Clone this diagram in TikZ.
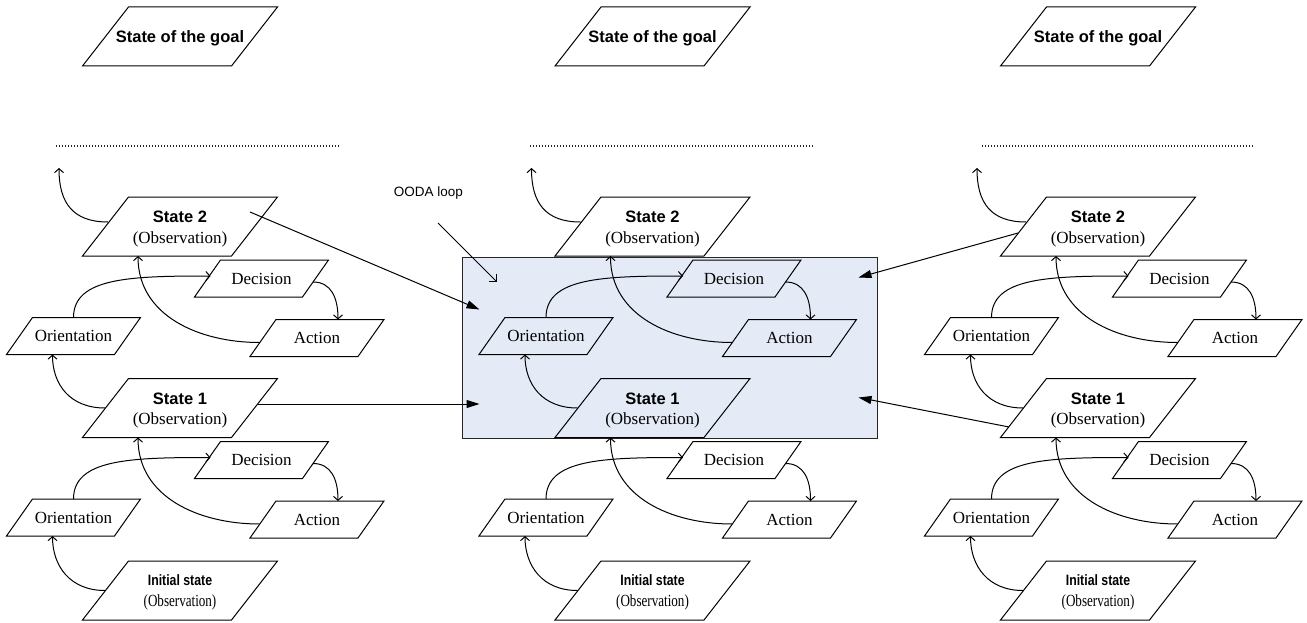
\documentclass[tikz,border=0pt]{standalone}
\usepackage{fontspec}
\usepackage{graphicx}
\setmainfont{Liberation Serif}
\setsansfont{Liberation Sans}
\usetikzlibrary{arrows.meta,calc}

\definecolor{loopfill}{RGB}{229,235,246}

\newcommand\statefont{\sffamily\bfseries\fontsize{16.5}{20.6}\selectfont}
\newcommand\obsfont{\rmfamily\fontsize{17}{20.6}\selectfont}

% large parallelogram (state boxes): edge 149, slant 46, height 59
\newcommand\bigpg[4]{%
  \node[#1] (#2) at (#3) {#4};
  \draw[edge] ([shift={(-97.5,29.5)}]#2.center) -- ++(149,0) -- ++(46,-59) -- ++(-149,0) -- cycle;
}
% small parallelogram (OODA steps): edge 108, slant 26, height 37
\newcommand\smallpg[3]{%
  \node[steptxt] (#1) at (#2) {#3};
  \draw[edge] ([shift={(-67,18.5)}]#1.center) -- ++(108,0) -- ++(26,-37) -- ++(-108,0) -- cycle;
}
% one loop: observation -> orientation -> decision -> action -> next state
\newcommand\looparrows[5]{%
  \draw[conn] ([shift={(-75,0)}]#1.center) .. controls ([shift={(-110,0)}]#1.center) and ([shift={(-21,48.5)}]#2.center) .. ([shift={(-21,18.5)}]#2.center);
  \draw[conn] ([shift={(0,-18.5)}]#2.center) .. controls ([shift={(0,-58.5)}]#2.center) and ([shift={(-131,-2.5)}]#3.center) .. ([shift={(-51,-2.5)}]#3.center);
  \draw[conn] ([shift={(51.5,3.5)}]#3.center) .. controls ([shift={(69.5,3.5)}]#3.center) and ([shift={(21,-40.5)}]#4.center) .. ([shift={(21,-18.5)}]#4.center);
  \draw[conn] ([shift={(-57.5,4.5)}]#4.center) .. controls ([shift={(-117.5,4.5)}]#4.center) and ([shift={(-42,89.5)}]#5.center) .. ([shift={(-42,29.5)}]#5.center);
}
% a full column of states and loops
\newcommand\oodacol[2]{%
  \begin{scope}[shift={(#2,0)}]
    \bigpg{goaltxt}{#1goal}{0,36.5}{\rule{0pt}{16pt}State of the goal}
    \bigpg{statetxt}{#1s2}{0,226.5}{{\statefont\rule{0pt}{16.7pt}State 2}\\(Observation)}
    \bigpg{statetxt}{#1s1}{0,408}{{\statefont\rule{0pt}{16.7pt}State 1}\\(Observation)}
    \bigpg{inittxt}{#1in}{0,590.5}{{\sffamily\bfseries\fontsize{15}{21.5}\selectfont\rule{0pt}{14.2pt}\scalebox{0.82}[1]{Initial state}}\\\scalebox{0.77}[1]{(Observation)}}
    \smallpg{#1oa}{-106.5,336}{Orientation}
    \smallpg{#1da}{81.5,278.5}{Decision}
    \smallpg{#1aa}{137,338}{Action}
    \smallpg{#1ob}{-106.5,517.5}{Orientation}
    \smallpg{#1db}{81.5,460}{Decision}
    \smallpg{#1ab}{137,519.5}{Action}
    \looparrows{#1s1}{#1oa}{#1da}{#1aa}{#1s2}
    \looparrows{#1in}{#1ob}{#1db}{#1ab}{#1s1}
    \coordinate (#1up) at (-121,168);
    \draw[conn] ([shift={(-72,-4.5)}]#1s2.center) .. controls ([shift={(-107,-4.5)}]#1s2.center) and ([shift={(0,35)}]#1up) .. (#1up);
  \end{scope}
}

\begin{document}
\begin{tikzpicture}[x=1pt,y=-1pt,
  edge/.style={draw=black, line width=1pt, line join=miter},
  conn/.style={line width=1pt, -{Straight Barb[length=4pt,width=9pt]}},
  feed/.style={line width=1pt, -{Triangle[length=13pt,width=8pt]}},
  statetxt/.style={inner sep=0pt, align=center, font=\obsfont},
  inittxt/.style={inner sep=0pt, align=center, font=\rmfamily\fontsize{17}{21.5}\selectfont},
  goaltxt/.style={inner sep=0pt, font=\statefont},
  steptxt/.style={inner sep=0pt, font=\obsfont, text height=11.6pt, text depth=0pt},
  loopbox/.style={draw=black!85, fill=loopfill, line width=1pt, minimum width=415pt, minimum height=181pt, inner sep=0pt},
  dotline/.style={line width=1.2pt, black!85, dash pattern=on 1.2pt off 1.8pt},
]
\useasboundingbox (0,0) rectangle (1307,623);

% highlighted OODA loop
\node[loopbox] (box) at (669.5,347.5) {};

% three columns
\oodacol{L}{180}
\oodacol{C}{652.5}
\oodacol{R}{1098}

% continuation marks
\draw[dotline] (56,146) -- (340,146);
\draw[dotline] (530,146) -- (813,146);
\draw[dotline] (982,146) -- (1253,146);

% label of the highlighted loop
\node[font=\sffamily\fontsize{13.5}{16}\selectfont, inner sep=0pt] (ooda) at (428.5,193) {OODA loop};
\draw[line width=1pt, -{Straight Barb[length=5pt,width=10pt]}] ([shift={(9.5,30)}]ooda.center) -- ([shift={(35,25)}]box.north west);

% states feeding the loop
\draw[feed] ([shift={(70,-14.5)}]Ls2.center) -- ([shift={(18,53)}]box.north west);
\draw[feed] ([shift={(78,-4)}]Ls1.center) -- ([shift={(18,56.5)}]box.west);
\draw[feed] ([shift={(-80,6.5)}]Rs2.center) -- ([shift={(-19,21)}]box.north east);
\draw[feed] ([shift={(-89,19)}]Rs1.center) -- ([shift={(-19,-41)}]box.south east);
\end{tikzpicture}
\end{document}
